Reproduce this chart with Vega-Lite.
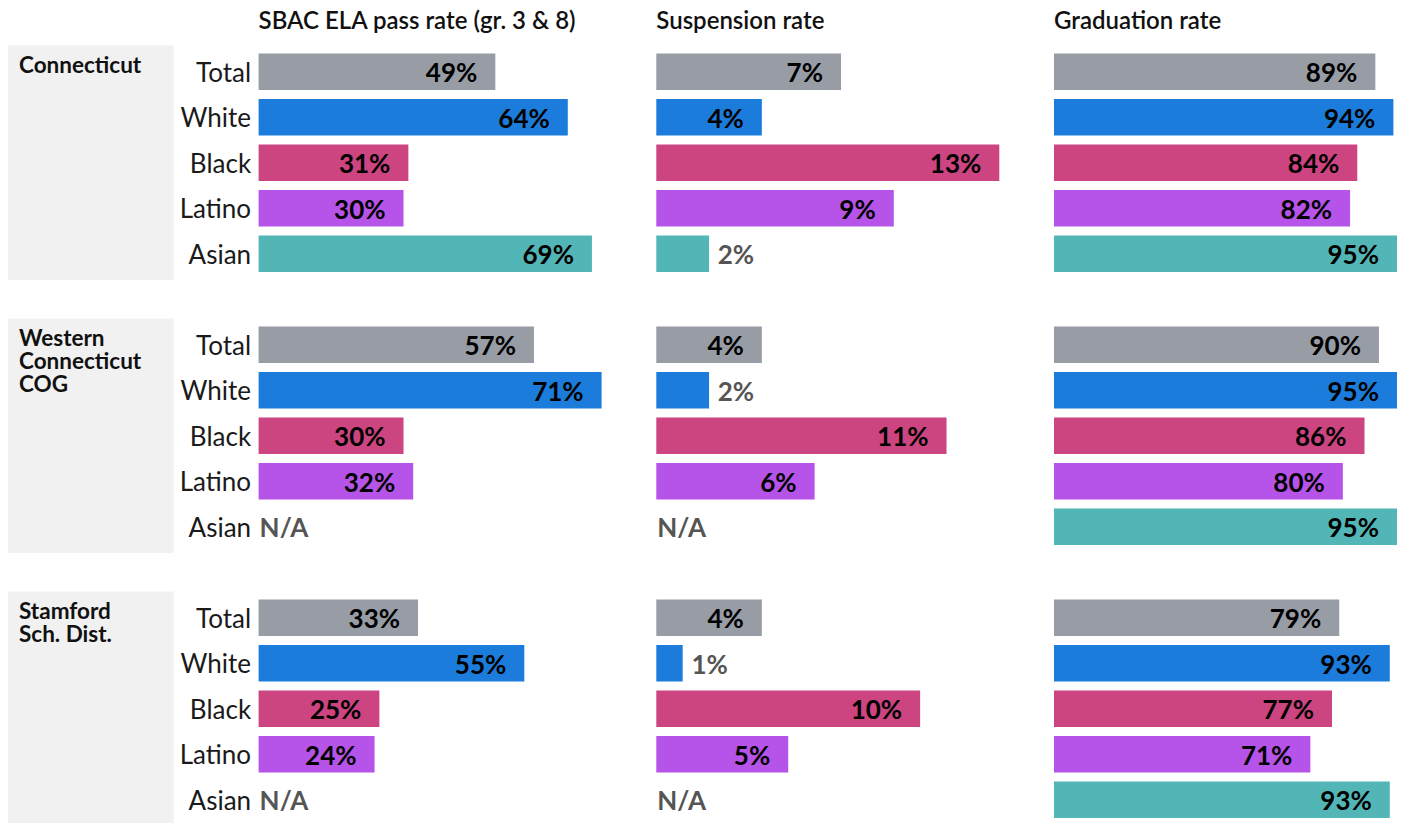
{
  "$schema": "https://vega.github.io/schema/vega-lite/v6.json",
  "background": "white",
  "padding": {"left": 8, "top": 10, "right": 0, "bottom": 0},
  "config": {
    "view": {"stroke": null},
    "font": "Lato",
    "title": {"anchor": "start", "frame": "group", "fontSize": 24, "fontWeight": 600, "color": "#111111", "baseline": "alphabetic", "offset": 15},
    "text": {"font": "Lato"}
  },
  "datasets": {
    "rates": [
      {"region": "ct", "group": "Total", "metric": "ela", "value": 0.49},
      {"region": "ct", "group": "White", "metric": "ela", "value": 0.64},
      {"region": "ct", "group": "Black", "metric": "ela", "value": 0.31},
      {"region": "ct", "group": "Latino", "metric": "ela", "value": 0.30},
      {"region": "ct", "group": "Asian", "metric": "ela", "value": 0.69},
      {"region": "wcog", "group": "Total", "metric": "ela", "value": 0.57},
      {"region": "wcog", "group": "White", "metric": "ela", "value": 0.71},
      {"region": "wcog", "group": "Black", "metric": "ela", "value": 0.30},
      {"region": "wcog", "group": "Latino", "metric": "ela", "value": 0.32},
      {"region": "wcog", "group": "Asian", "metric": "ela", "value": null},
      {"region": "stam", "group": "Total", "metric": "ela", "value": 0.33},
      {"region": "stam", "group": "White", "metric": "ela", "value": 0.55},
      {"region": "stam", "group": "Black", "metric": "ela", "value": 0.25},
      {"region": "stam", "group": "Latino", "metric": "ela", "value": 0.24},
      {"region": "stam", "group": "Asian", "metric": "ela", "value": null},
      {"region": "ct", "group": "Total", "metric": "susp", "value": 0.07},
      {"region": "ct", "group": "White", "metric": "susp", "value": 0.04},
      {"region": "ct", "group": "Black", "metric": "susp", "value": 0.13},
      {"region": "ct", "group": "Latino", "metric": "susp", "value": 0.09},
      {"region": "ct", "group": "Asian", "metric": "susp", "value": 0.02},
      {"region": "wcog", "group": "Total", "metric": "susp", "value": 0.04},
      {"region": "wcog", "group": "White", "metric": "susp", "value": 0.02},
      {"region": "wcog", "group": "Black", "metric": "susp", "value": 0.11},
      {"region": "wcog", "group": "Latino", "metric": "susp", "value": 0.06},
      {"region": "wcog", "group": "Asian", "metric": "susp", "value": null},
      {"region": "stam", "group": "Total", "metric": "susp", "value": 0.04},
      {"region": "stam", "group": "White", "metric": "susp", "value": 0.01},
      {"region": "stam", "group": "Black", "metric": "susp", "value": 0.10},
      {"region": "stam", "group": "Latino", "metric": "susp", "value": 0.05},
      {"region": "stam", "group": "Asian", "metric": "susp", "value": null},
      {"region": "ct", "group": "Total", "metric": "grad", "value": 0.89},
      {"region": "ct", "group": "White", "metric": "grad", "value": 0.94},
      {"region": "ct", "group": "Black", "metric": "grad", "value": 0.84},
      {"region": "ct", "group": "Latino", "metric": "grad", "value": 0.82},
      {"region": "ct", "group": "Asian", "metric": "grad", "value": 0.95},
      {"region": "wcog", "group": "Total", "metric": "grad", "value": 0.90},
      {"region": "wcog", "group": "White", "metric": "grad", "value": 0.95},
      {"region": "wcog", "group": "Black", "metric": "grad", "value": 0.86},
      {"region": "wcog", "group": "Latino", "metric": "grad", "value": 0.80},
      {"region": "wcog", "group": "Asian", "metric": "grad", "value": 0.95},
      {"region": "stam", "group": "Total", "metric": "grad", "value": 0.79},
      {"region": "stam", "group": "White", "metric": "grad", "value": 0.93},
      {"region": "stam", "group": "Black", "metric": "grad", "value": 0.77},
      {"region": "stam", "group": "Latino", "metric": "grad", "value": 0.71},
      {"region": "stam", "group": "Asian", "metric": "grad", "value": 0.93}
    ],
    "regions": [
      {"name": "Connecticut", "first": "ct|Total", "last": "ct|Asian"},
      {"name": "Western\nConnecticut\nCOG", "first": "wcog|Total", "last": "wcog|Asian"},
      {"name": "Stamford\nSch. Dist.", "first": "stam|Total", "last": "stam|Asian"}
    ]
  },
  "bounds": "flush",
  "spacing": 84.6,
  "hconcat": [
    {
      "width": 165.7,
      "height": 773.5,
      "data": {"name": "regions"},
      "layer": [
        {
          "mark": {"type": "rect", "fill": "#f1f1f1", "yOffset": -8, "y2Offset": 8},
          "encoding": {
            "y": {"field": "first", "type": "nominal", "bandPosition": 0, "axis": null,
              "scale": {"domain": ["ct|Total","ct|White","ct|Black","ct|Latino","ct|Asian","gap1","wcog|Total","wcog|White","wcog|Black","wcog|Latino","wcog|Asian","gap2","stam|Total","stam|White","stam|Black","stam|Latino","stam|Asian"], "paddingInner": 0.2, "paddingOuter": 0.1}},
            "y2": {"field": "last", "bandPosition": 1},
            "x": {"datum": 0, "type": "quantitative", "scale": {"domain": [0, 1], "nice": false, "zero": false}, "axis": null},
            "x2": {"datum": 1}
          }
        },
        {
          "mark": {"type": "text", "align": "left", "baseline": "top", "dx": 11, "dy": 1.5, "fontSize": 22.5, "fontWeight": "bold", "color": "#111111", "lineBreak": "\n", "lineHeight": 23},
          "encoding": {
            "y": {"field": "first", "type": "nominal", "bandPosition": 0, "axis": null},
            "x": {"datum": 0, "type": "quantitative", "axis": null},
            "text": {"field": "name", "type": "nominal"}
          }
        }
      ]
    },
    {
      "bounds": "flush",
      "spacing": 54.7,
      "hconcat": [
        {
          "width": 343,
          "height": 773.5,
          "title": {"text": "SBAC ELA pass rate (gr. 3 & 8)"},
          "data": {"name": "rates"},
          "transform": [
            {"filter": "datum.metric == 'ela'"},
            {"calculate": "datum.region + '|' + datum.group", "as": "key"}
          ],
          "encoding": {
            "y": {"field": "key", "type": "nominal",
              "scale": {"domain": ["ct|Total","ct|White","ct|Black","ct|Latino","ct|Asian","gap1","wcog|Total","wcog|White","wcog|Black","wcog|Latino","wcog|Asian","gap2","stam|Total","stam|White","stam|Black","stam|Latino","stam|Asian"], "paddingInner": 0.2, "paddingOuter": 0.1},
              "axis": {"title": null, "ticks": false, "domain": false, "grid": false, "labelFontSize": 26, "labelFont": "Lato", "labelColor": "#1a1a1a", "labelPadding": 8, "labelBaseline": "alphabetic", "labelOffset": 10,
                "labelExpr": "indexof(datum.value, '|') > 0 ? split(datum.value, '|')[1] : ''"}}
          },
          "layer": [
            {
              "mark": {"type": "bar"},
              "encoding": {
                "x": {"field": "value", "type": "quantitative", "scale": {"domain": [0, 0.71], "nice": false}, "axis": null},
                "color": {"field": "group", "type": "nominal", "legend": null,
                  "scale": {"domain": ["Total","White","Black","Latino","Asian"], "range": ["#979ca5","#1c7cdb","#cc4480","#b653e8","#53b6b6"]}}
              }
            },
            {
              "transform": [{"filter": "isValid(datum.value)"}],
              "mark": {"type": "text", "align": "right", "baseline": "alphabetic", "dx": -18, "dy": 10.5, "fontSize": 26, "fontWeight": "bold", "color": "#000000"},
              "encoding": {
                "x": {"field": "value", "type": "quantitative"},
                "text": {"field": "value", "type": "quantitative", "format": ".0%"}
              }
            },
            {
              "transform": [{"filter": "!isValid(datum.value)"}],
              "mark": {"type": "text", "align": "left", "baseline": "alphabetic", "dx": 1, "dy": 10.5, "fontSize": 26, "fontWeight": "bold", "color": "#555555"},
              "encoding": {
                "x": {"datum": 0, "type": "quantitative"},
                "text": {"value": "N/A"}
              }
            }
          ]
        },
        {
          "width": 343,
          "height": 773.5,
          "title": {"text": "Suspension rate"},
          "data": {"name": "rates"},
          "transform": [
            {"filter": "datum.metric == 'susp'"},
            {"calculate": "datum.region + '|' + datum.group", "as": "key"}
          ],
          "encoding": {
            "y": {"field": "key", "type": "nominal",
              "scale": {"domain": ["ct|Total","ct|White","ct|Black","ct|Latino","ct|Asian","gap1","wcog|Total","wcog|White","wcog|Black","wcog|Latino","wcog|Asian","gap2","stam|Total","stam|White","stam|Black","stam|Latino","stam|Asian"], "paddingInner": 0.2, "paddingOuter": 0.1},
              "axis": null}
          },
          "layer": [
            {
              "mark": {"type": "bar"},
              "encoding": {
                "x": {"field": "value", "type": "quantitative", "scale": {"domain": [0, 0.13], "nice": false}, "axis": null},
                "color": {"field": "group", "type": "nominal", "legend": null,
                  "scale": {"domain": ["Total","White","Black","Latino","Asian"], "range": ["#979ca5","#1c7cdb","#cc4480","#b653e8","#53b6b6"]}}
              }
            },
            {
              "transform": [{"filter": "isValid(datum.value) && datum.value >= 0.03"}],
              "mark": {"type": "text", "align": "right", "baseline": "alphabetic", "dx": -18, "dy": 10.5, "fontSize": 26, "fontWeight": "bold", "color": "#000000"},
              "encoding": {
                "x": {"field": "value", "type": "quantitative"},
                "text": {"field": "value", "type": "quantitative", "format": ".0%"}
              }
            },
            {
              "transform": [{"filter": "isValid(datum.value) && datum.value < 0.03"}],
              "mark": {"type": "text", "align": "left", "baseline": "alphabetic", "dx": 8.7, "dy": 10.5, "fontSize": 26, "fontWeight": "bold", "color": "#555555"},
              "encoding": {
                "x": {"field": "value", "type": "quantitative"},
                "text": {"field": "value", "type": "quantitative", "format": ".0%"}
              }
            },
            {
              "transform": [{"filter": "!isValid(datum.value)"}],
              "mark": {"type": "text", "align": "left", "baseline": "alphabetic", "dx": 1, "dy": 10.5, "fontSize": 26, "fontWeight": "bold", "color": "#555555"},
              "encoding": {
                "x": {"datum": 0, "type": "quantitative"},
                "text": {"value": "N/A"}
              }
            }
          ]
        },
        {
          "width": 343,
          "height": 773.5,
          "title": {"text": "Graduation rate"},
          "data": {"name": "rates"},
          "transform": [
            {"filter": "datum.metric == 'grad'"},
            {"calculate": "datum.region + '|' + datum.group", "as": "key"}
          ],
          "encoding": {
            "y": {"field": "key", "type": "nominal",
              "scale": {"domain": ["ct|Total","ct|White","ct|Black","ct|Latino","ct|Asian","gap1","wcog|Total","wcog|White","wcog|Black","wcog|Latino","wcog|Asian","gap2","stam|Total","stam|White","stam|Black","stam|Latino","stam|Asian"], "paddingInner": 0.2, "paddingOuter": 0.1},
              "axis": null}
          },
          "layer": [
            {
              "mark": {"type": "bar"},
              "encoding": {
                "x": {"field": "value", "type": "quantitative", "scale": {"domain": [0, 0.95], "nice": false}, "axis": null},
                "color": {"field": "group", "type": "nominal", "legend": null,
                  "scale": {"domain": ["Total","White","Black","Latino","Asian"], "range": ["#979ca5","#1c7cdb","#cc4480","#b653e8","#53b6b6"]}}
              }
            },
            {
              "transform": [{"filter": "isValid(datum.value)"}],
              "mark": {"type": "text", "align": "right", "baseline": "alphabetic", "dx": -18, "dy": 10.5, "fontSize": 26, "fontWeight": "bold", "color": "#000000"},
              "encoding": {
                "x": {"field": "value", "type": "quantitative"},
                "text": {"field": "value", "type": "quantitative", "format": ".0%"}
              }
            }
          ]
        }
      ]
    }
  ]
}
